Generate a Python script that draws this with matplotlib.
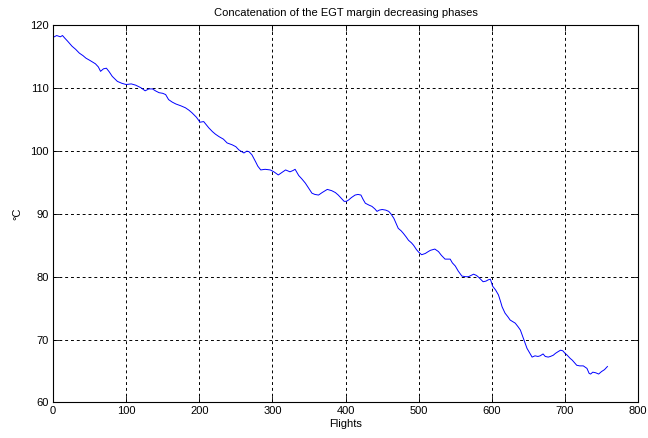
import matplotlib
matplotlib.use("Agg")
import matplotlib.pyplot as plt

flights = [0, 5, 10, 13, 16, 20, 26, 31, 36, 41, 45, 51, 58, 62, 65, 69, 73, 77, 81, 88,
           94, 100, 107, 113, 120, 126, 131, 136, 140, 145, 150, 154, 158, 163, 168, 175,
           181, 186, 190, 196, 201, 206, 213, 218, 222, 227, 233, 238, 245, 250, 254, 261,
           265, 268, 272, 277, 280, 284, 290, 297, 302, 308, 313, 318, 324, 328, 331, 336,
           340, 345, 350, 354, 358, 363, 368, 375, 381, 386, 390, 394, 398, 401, 404, 408,
           413, 417, 421, 424, 427, 432, 436, 440, 443, 446, 450, 455, 459, 462, 466, 469,
           472, 476, 479, 483, 486, 490, 493, 497, 500, 504, 509, 513, 516, 522, 527, 531,
           536, 543, 546, 550, 554, 559, 564, 568, 575, 579, 582, 588, 592, 595, 598, 601,
           605, 609, 612, 614, 618, 622, 625, 632, 636, 639, 643, 646, 648, 652, 655, 659,
           663, 666, 670, 673, 677, 680, 684, 687, 691, 694, 697, 700, 703, 707, 710, 713,
           716, 720, 725, 730, 733, 735, 738, 742, 746, 750, 754, 758]
egt_margin = [118.1, 118.4, 118.2, 118.4, 118.0, 117.5, 116.7, 116.2, 115.6, 115.2, 114.8,
              114.4, 113.9, 113.4, 112.7, 113.1, 113.2, 112.6, 111.9, 111.1, 110.8, 110.6,
              110.7, 110.5, 110.1, 109.6, 109.9, 109.9, 109.6, 109.3, 109.2, 109.0, 108.2,
              107.8, 107.5, 107.2, 106.9, 106.5, 106.1, 105.4, 104.6, 104.7, 103.7, 103.1,
              102.7, 102.3, 101.9, 101.3, 101.0, 100.7, 100.2, 99.7, 100.0, 99.9, 99.4, 98.3,
              97.6, 97.0, 97.1, 97.0, 96.7, 96.2, 96.6, 97.0, 96.7, 96.9, 97.1, 96.1, 95.6,
              94.9, 94.0, 93.3, 93.1, 93.0, 93.4, 93.9, 93.7, 93.4, 93.0, 92.5, 92.0, 92.0,
              92.2, 92.6, 93.0, 93.1, 93.0, 92.3, 91.7, 91.4, 91.2, 90.8, 90.4, 90.6, 90.7,
              90.6, 90.4, 90.0, 89.3, 88.5, 87.7, 87.3, 86.9, 86.3, 85.8, 85.4, 85.0, 84.3,
              83.9, 83.5, 83.7, 84.0, 84.2, 84.4, 84.0, 83.4, 82.8, 82.8, 82.2, 81.7, 80.9,
              80.1, 80.0, 80.0, 80.4, 80.2, 79.9, 79.2, 79.3, 79.5, 79.6, 78.5, 77.9, 77.1,
              76.0, 75.2, 74.2, 73.6, 73.1, 72.6, 72.0, 71.5, 70.2, 69.2, 68.6, 67.8, 67.2,
              67.4, 67.3, 67.4, 67.7, 67.3, 67.2, 67.3, 67.5, 67.8, 68.1, 68.3, 68.2, 67.8,
              67.5, 67.0, 66.7, 66.3, 65.9, 65.8, 65.8, 65.4, 64.6, 64.5, 64.8, 64.7, 64.5,
              64.9, 65.2, 65.7]

xticks = [0, 100, 200, 300, 400, 500, 600, 700, 800]
yticks = [60, 70, 80, 90, 100, 110, 120]
title = "Concatenation of the EGT margin decreasing phases"
xlabel = "Flights"
ylabel = "°C"

plt.rcParams['font.family'] = ['Liberation Sans', 'DejaVu Sans']

fig = plt.figure(figsize=(6.48, 4.38), dpi=100)
ax = fig.add_axes([0.0818, 0.0815, 0.903, 0.8603])
ax.plot(flights, egt_margin, color=(0, 0, 1), linewidth=0.7)
ax.set_xlim(0, 800)
ax.set_ylim(60, 120)
ax.set_xticks(xticks)
ax.set_yticks(yticks)
ax.grid(True, color='black', linestyle=(0, (3, 3)), linewidth=0.7)
ax.tick_params(direction='in', top=True, right=True, labelsize=8, length=4, width=0.6, pad=3)
for s in ax.spines.values():
    s.set_linewidth(0.8)
ax.set_title(title, fontsize=8, pad=7)
ax.set_xlabel(xlabel, fontsize=8, labelpad=2)
ax.set_ylabel(ylabel, fontsize=8, labelpad=6)
fig.savefig("out.png", dpi=100)
